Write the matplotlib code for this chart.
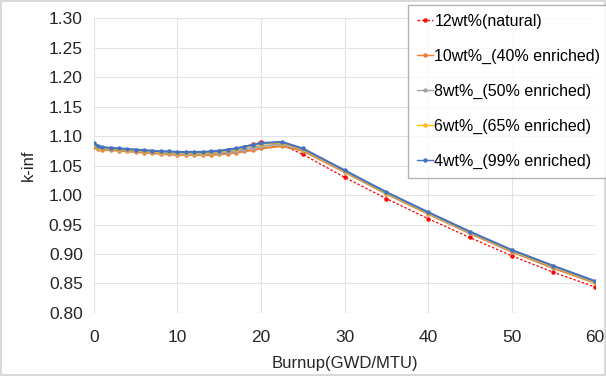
import matplotlib.pyplot as plt
import numpy as np

burnup = [0, 0.5, 1, 2, 3, 4, 5, 6, 7, 8, 9, 10, 11, 12, 13, 14, 15, 16, 17,
          18, 19, 20, 22.5, 25, 30, 35, 40, 45, 50, 55, 60]

k_12 = [1.085, 1.080, 1.079, 1.078, 1.077, 1.076, 1.075, 1.074, 1.073, 1.072,
        1.072, 1.071, 1.071, 1.071, 1.072, 1.073, 1.074, 1.076, 1.078, 1.082,
        1.086, 1.090, 1.085, 1.069, 1.030, 0.994, 0.960, 0.928, 0.897, 0.869, 0.844]
k_10 = [1.081, 1.078, 1.077, 1.076, 1.075, 1.074, 1.073, 1.072, 1.071, 1.070,
        1.069, 1.068, 1.068, 1.068, 1.068, 1.068, 1.069, 1.070, 1.072, 1.074,
        1.076, 1.079, 1.083, 1.075, 1.039, 1.002, 0.968, 0.935, 0.904, 0.876, 0.851]
k_8 = [1.084, 1.080, 1.079, 1.078, 1.077, 1.076, 1.075, 1.074, 1.073, 1.072,
       1.071, 1.070, 1.070, 1.070, 1.070, 1.071, 1.072, 1.073, 1.075, 1.077,
       1.080, 1.083, 1.086, 1.077, 1.040, 1.003, 0.969, 0.936, 0.905, 0.878, 0.852]
k_6 = [1.087, 1.082, 1.080, 1.079, 1.078, 1.077, 1.076, 1.075, 1.074, 1.073,
       1.073, 1.072, 1.072, 1.072, 1.072, 1.073, 1.074, 1.076, 1.078, 1.081,
       1.084, 1.087, 1.089, 1.078, 1.041, 1.004, 0.970, 0.937, 0.906, 0.879, 0.853]
k_4 = [1.088, 1.083, 1.081, 1.080, 1.079, 1.078, 1.077, 1.076, 1.075, 1.074,
       1.074, 1.073, 1.073, 1.073, 1.073, 1.074, 1.075, 1.077, 1.079, 1.082,
       1.085, 1.088, 1.090, 1.079, 1.042, 1.005, 0.971, 0.938, 0.907, 0.880, 0.854]

labels = ["12wt%(natural)", "10wt%_(40% enriched)", "8wt%_(50% enriched)",
          "6wt%_(65% enriched)", "4wt%_(99% enriched)"]
colors = ["#FF0000", "#ED7D31", "#A5A5A5", "#FFC000", "#4472C4"]

plt.rcParams['font.family'] = ['Liberation Sans', 'DejaVu Sans']

fig = plt.figure(figsize=(6.06, 3.76), dpi=100)
fig.patch.set_edgecolor('#D9D9D9')
fig.patch.set_linewidth(1.5)
ax = fig.add_axes([0.155, 0.1676, 0.827, 0.7844])

series = [k_12, k_10, k_8, k_6, k_4]
for i, (k, lab, c) in enumerate(zip(series, labels, colors)):
    if i == 0:
        ax.plot(burnup, k, color=c, lw=0.9, ls=(0, (2, 1.5)), marker='o', ms=2.2,
                label=lab, zorder=3)
    else:
        ax.plot(burnup, k, color=c, lw=1.5, marker='o', ms=2.2, label=lab,
                zorder=3 + i)

ax.set_xlim(0, 60)
ax.set_ylim(0.80, 1.30)
ax.set_xticks(np.arange(0, 61, 10))
ax.set_yticks(np.arange(0.80, 1.301, 0.05))
ax.yaxis.set_major_formatter(plt.FormatStrFormatter('%.2f'))
ax.grid(True, color='#E3E3E3', lw=0.8)
ax.set_axisbelow(True)
for s in ax.spines.values():
    s.set_visible(False)
ax.tick_params(axis='y', length=0, labelsize=12.5, labelcolor='#262626', pad=8)
ax.tick_params(axis='x', length=0, labelsize=12.5, labelcolor='#262626', pad=12)

ax.set_xlabel("Burnup(GWD/MTU)", fontsize=12, color='#262626', labelpad=8)
ax.set_ylabel("k-inf", fontsize=12, color='#262626', labelpad=9)

leg = ax.legend(loc='upper left', bbox_to_anchor=(408 / 606, 1 - 5 / 376),
                bbox_transform=fig.transFigure, fontsize=11.5, frameon=True,
                fancybox=False, edgecolor='#A0A0A0', handlelength=1.0,
                handletextpad=0.1, labelspacing=1.25, borderpad=0.55,
                borderaxespad=0)
leg.get_frame().set_linewidth(1.0)
for h in leg.get_lines():
    h.set_linewidth(1.0)

plt.savefig("out.png", dpi=100)
